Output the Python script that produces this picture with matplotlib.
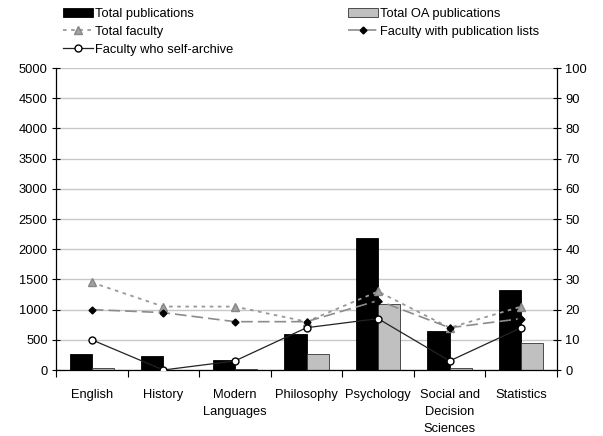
import numpy as np
import matplotlib
matplotlib.use("Agg")
import matplotlib.pyplot as plt
from matplotlib.ticker import MultipleLocator, FixedLocator

plt.rcParams["font.family"] = ["Liberation Sans", "DejaVu Sans"]
plt.rcParams["font.size"] = 9.3

# data
departments = ["English", "History", "Modern\nLanguages", "Philosophy", "Psychology",
               "Social and\nDecision\nSciences", "Statistics"]
total_pubs = [265, 232, 166, 591, 2190, 640, 1320]
total_oa_pubs = [28, 3, 17, 265, 1100, 33, 445]
total_faculty = [29, 21, 21, 16, 26, 14, 21]
faculty_pub_lists = [20, 19, 16, 16, 23, 14, 17]
faculty_self_archive = [10, 0, 3, 14, 17, 3, 14]

x = np.arange(len(departments))
w = 0.31

fig = plt.figure(figsize=(6.03, 4.36), dpi=100)
ax = fig.add_axes([56 / 603, 1 - 370 / 436, (557 - 56) / 603, (370 - 68) / 436])

b1 = ax.bar(x - w / 2, total_pubs, w, color="black", edgecolor="black", linewidth=0.6, zorder=2)
b2 = ax.bar(x + w / 2, total_oa_pubs, w, color="#c0c0c0", edgecolor="#333333", linewidth=0.6, zorder=2)

ax.set_ylim(0, 5000)
ax.set_xlim(-0.5, len(departments) - 0.5)
ax.yaxis.set_major_locator(MultipleLocator(500))
ax.grid(axis="y", color="#c8c8c8", linewidth=1.0, zorder=0)
ax.set_axisbelow(True)
ax.set_xticks(x)
ax.set_xticklabels(departments, linespacing=1.55)
ax.xaxis.set_minor_locator(FixedLocator(np.arange(-0.5, len(departments), 1)))
ax.tick_params(axis="x", which="major", length=0, pad=14)
ax.tick_params(axis="x", which="minor", length=5, width=0.8, direction="out")
ax.tick_params(axis="y", length=6, width=0.8, direction="inout", pad=3)
ax.spines["top"].set_visible(False)
ax.spines["right"].set_visible(False)
for s in ("left", "bottom"):
    ax.spines[s].set_linewidth(0.9)

ax2 = ax.twinx()
ax2.set_ylim(0, 100)
ax2.yaxis.set_major_locator(MultipleLocator(10))
ax2.tick_params(axis="y", length=6, width=0.8, direction="inout", pad=3)
ax2.spines["top"].set_visible(False)
ax2.spines["left"].set_visible(False)
ax2.spines["bottom"].set_visible(False)
ax2.spines["right"].set_linewidth(0.9)

l1, = ax2.plot(x, total_faculty, linestyle=(0, (2, 2.5)), color="#999999", linewidth=1.3,
               marker="^", markersize=5.5, markerfacecolor="#a0a0a0", markeredgecolor="#888888")
l2, = ax2.plot(x, faculty_pub_lists, linestyle=(0, (7, 3)), color="#8c8c8c", linewidth=1.2,
               marker="D", markersize=3.5, markerfacecolor="black", markeredgecolor="black")
l3, = ax2.plot(x, faculty_self_archive, linestyle="-", color="#222222", linewidth=0.9,
               marker="o", markersize=5, markerfacecolor="white", markeredgecolor="black")

common = dict(frameon=False, handlelength=2.3, handleheight=0.7, handletextpad=0.2,
              labelspacing=0.45, borderaxespad=0, borderpad=0, fontsize=9.3)
leg1 = fig.legend([b1, l1, l3], ["Total publications", "Total faculty", "Faculty who self-archive"],
                  loc="upper left", bbox_to_anchor=(63 / 603, 1 - 8 / 436), **common)
leg2 = fig.legend([b2, l2], ["Total OA publications", "Faculty with publication lists"],
                  loc="upper left", bbox_to_anchor=(348 / 603, 1 - 8 / 436), **common)

fig.savefig("out.png", dpi=100)
